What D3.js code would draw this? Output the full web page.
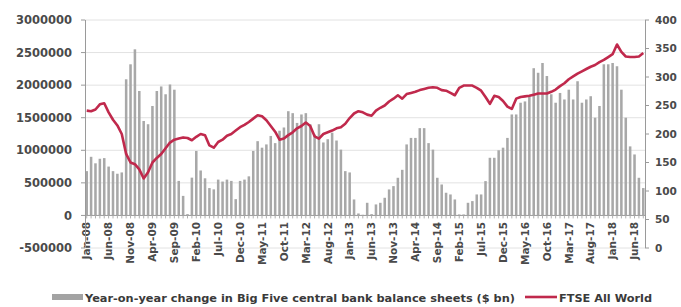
<!DOCTYPE html>
<html><head><meta charset="utf-8">
<script src="https://cdn.jsdelivr.net/npm/d3@7"></script>
<style>
html,body{margin:0;padding:0;background:#fff;overflow:hidden}
svg{display:block}
text{font-family:"DejaVu Sans",sans-serif;font-weight:bold;fill:#4a4a4a}
</style></head><body>
<svg id="chart" width="681" height="307"></svg>
<script>
// Monthly categories Jan-08 .. Aug-18
const monthNames = ["Jan","Feb","Mar","Apr","May","Jun","Jul","Aug","Sep","Oct","Nov","Dec"];
const categories = [];
for (let yr = 8; yr <= 18; yr++) for (let m = 0; m < 12; m++) {
  if (yr === 18 && m > 7) break;
  categories.push(monthNames[m] + "-" + String(yr).padStart(2, "0"));
}
const tickLabels = ["Jan-08","Jun-08","Nov-08","Apr-09","Sep-09","Feb-10","Jul-10","Dec-10","May-11","Oct-11","Mar-12","Aug-12","Jan-13","Jun-13","Nov-13","Apr-14","Sep-14","Feb-15","Jul-15","Dec-15","May-16","Oct-16","Mar-17","Aug-17","Jan-18","Jun-18"];
const leftTicks = [-500000,0,500000,1000000,1500000,2000000,2500000,3000000];
const rightTicks = [0,50,100,150,200,250,300,350,400];

// Year-on-year change in Big Five central bank balance sheets
const balanceChange = [
 680000,900000,800000,870000,880000,750000,680000,640000,660000,2090000,2320000,2550000,
 1910000,1450000,1400000,1680000,1910000,1980000,1860000,2010000,1930000,530000,300000,20000,
 580000,990000,690000,570000,420000,400000,550000,520000,550000,530000,250000,530000,
 550000,600000,990000,1140000,1040000,1090000,1220000,1110000,1300000,1350000,1600000,1570000,
 1420000,1550000,1570000,1400000,1240000,1400000,1120000,1170000,1270000,1150000,1010000,680000,
 660000,245000,30000,10000,194000,20000,169000,194000,271000,399000,450000,578000,
 700000,1090000,1190000,1190000,1340000,1340000,1110000,1010000,578000,475000,348000,322000,
 245000,15000,15000,194000,220000,322000,322000,527000,885000,885000,1000000,1040000,
 1190000,1550000,1550000,1730000,1750000,1830000,2260000,2190000,2340000,2140000,1860000,1730000,
 1880000,1780000,1930000,1780000,2060000,1730000,1780000,1830000,1500000,1680000,2320000,2320000,
 2340000,2290000,1930000,1500000,1060000,936000,578000,420000
];
// FTSE All World index
const ftse = [
 241,240,243,252,254,238,225,215,200,165,150,147,
 138,122,133,150,158,165,175,185,190,192,194,193,
 189,195,200,198,180,176,186,190,197,200,206,212,
 216,221,227,233,231,224,214,204,190,192,198,203,
 210,214,220,214,196,192,200,203,206,210,212,218,
 228,236,240,238,234,232,241,246,250,257,262,268,
 262,270,272,274,277,279,281,282,281,277,276,272,
 268,281,285,285,285,281,276,265,253,267,265,258,
 248,244,262,265,266,267,269,271,271,271,274,278,
 284,289,296,301,306,310,314,318,321,326,330,335,
 340,357,344,336,335,335,336,342
];

const svg = d3.select("#chart");
const x = d3.scaleBand().domain(categories).range([85, 645]).paddingInner(0.42).paddingOuter(0.1);
const yL = d3.scaleLinear().domain([-500000, 3000000]).range([248, 20]);
const yR = d3.scaleLinear().domain([0, 400]).range([248, 20]);

// gridlines
svg.append("g").selectAll("line").data(leftTicks.filter(d => d !== 0)).join("line")
  .attr("x1", 85).attr("x2", 645).attr("y1", d => yL(d)).attr("y2", d => yL(d))
  .attr("stroke", "#e2e2e2").attr("stroke-width", 1);

// bars
svg.append("g").selectAll("rect").data(balanceChange).join("rect")
  .attr("x", (d, i) => x(categories[i]))
  .attr("width", x.bandwidth())
  .attr("y", d => yL(Math.max(0, d)))
  .attr("height", d => Math.abs(yL(d) - yL(0)))
  .attr("fill", "#a8a8a8");

// x axis line at zero + month ticks
svg.append("line").attr("x1", 85).attr("x2", 645).attr("y1", yL(0)).attr("y2", yL(0))
  .attr("stroke", "#9a9a9a").attr("stroke-width", 1);
svg.append("g").selectAll("line").data(categories).join("line")
  .attr("x1", d => x(d) + x.bandwidth() / 2).attr("x2", d => x(d) + x.bandwidth() / 2)
  .attr("y1", yL(0)).attr("y2", yL(0) + 3)
  .attr("stroke", "#b0b0b0").attr("stroke-width", 1);

// tick labels (rotated)
svg.append("g").selectAll("text").data(tickLabels).join("text")
  .attr("transform", d => `translate(${x(d) + x.bandwidth() / 2},222) rotate(-90)`)
  .attr("text-anchor", "end").attr("dy", "0.36em")
  .style("font-size", "10.5px")
  .text(d => d);

// left axis
svg.append("line").attr("x1", 85.5).attr("x2", 85.5).attr("y1", 20).attr("y2", 248)
  .attr("stroke", "#9a9a9a");
svg.append("g").selectAll("line").data(leftTicks).join("line")
  .attr("x1", 81).attr("x2", 85).attr("y1", d => yL(d)).attr("y2", d => yL(d))
  .attr("stroke", "#9a9a9a");
svg.append("g").selectAll("text").data(leftTicks).join("text")
  .attr("x", 72).attr("y", d => yL(d)).attr("dy", "0.36em").attr("text-anchor", "end")
  .style("font-size", "11.5px")
  .text(d => d);

// right axis
svg.append("line").attr("x1", 645.5).attr("x2", 645.5).attr("y1", 20).attr("y2", 248)
  .attr("stroke", "#9a9a9a");
svg.append("g").selectAll("line").data(rightTicks).join("line")
  .attr("x1", 645).attr("x2", 649).attr("y1", d => yR(d)).attr("y2", d => yR(d))
  .attr("stroke", "#9a9a9a");
svg.append("g").selectAll("text").data(rightTicks).join("text")
  .attr("x", 655).attr("y", d => yR(d)).attr("dy", "0.36em").attr("text-anchor", "start")
  .style("font-size", "10.5px")
  .text(d => d);

// FTSE line
const line = d3.line().x((d, i) => x(categories[i]) + x.bandwidth() / 2).y(d => yR(d)).curve(d3.curveLinear);
svg.append("path").datum(ftse).attr("d", line)
  .attr("fill", "none").attr("stroke", "#c0294c").attr("stroke-width", 2.6)
  .attr("stroke-linejoin", "round");

// legend
const lg = svg.append("g");
lg.append("rect").attr("x", 52).attr("y", 294).attr("width", 31).attr("height", 6).attr("fill", "#a3a3a3");
lg.append("text").attr("x", 85).attr("y", 301.5)
  .attr("textLength", 430).attr("lengthAdjust", "spacingAndGlyphs")
  .style("font-size", "11px").style("fill", "#3a3a3a")
  .text("Year-on-year change in Big Five central bank balance sheets ($ bn)");
lg.append("line").attr("x1", 525).attr("x2", 557).attr("y1", 297).attr("y2", 297)
  .attr("stroke", "#c0294c").attr("stroke-width", 2.6);
lg.append("text").attr("x", 559).attr("y", 301.5)
  .attr("textLength", 93).attr("lengthAdjust", "spacingAndGlyphs")
  .style("font-size", "11px").style("fill", "#3a3a3a")
  .text("FTSE All World");
</script>
</body></html>
